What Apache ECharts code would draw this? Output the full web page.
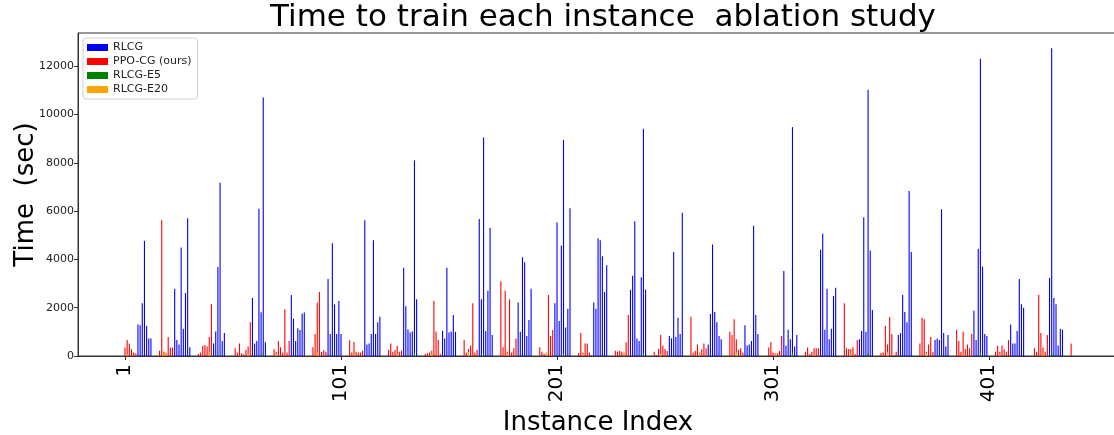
<!DOCTYPE html>
<html>
<head>
<meta charset="utf-8">
<title>Time to train each instance</title>
<script src="https://cdn.jsdelivr.net/npm/echarts@6/dist/echarts.min.js"></script>
<style>
html, body { margin: 0; padding: 0; background: #fff; }
#chart { width: 1114px; height: 435px; }
</style>
</head>
<body>
<div id="chart"></div>
<script>
// x tick labels (instance index)
const xTicks = [1, 101, 201, 301, 401]
const yTicks = [0, 2000, 4000, 6000, 8000, 10000, 12000]

// RLCG: first instance of each run, then the run values (sec)
const rlcgStart = [7, 24, 42, 60, 78, 95, 112, 130, 148, 165, 183, 200, 218, 235, 253, 271, 288, 306, 323, 341, 359, 376, 394, 411, 429]
const rlcgRuns = [
  [1310, 1270, 2180, 4770, 1240, 730, 730],
  [2790, 660, 480, 4490, 1130, 2610, 5710, 360],
  [520, 1010, 3690, 7180, 620, 950],
  [2400, 520, 620, 6100, 1810, 10710, 570],
  [2530, 1550, 620, 1150, 1080, 1750, 1800],
  [3190, 910, 4670, 2140, 910, 2280, 910],
  [5620, 480, 520, 910, 4800, 910, 1400, 1630],
  [3660, 2060, 1100, 970, 1010, 8100, 2350],
  [1040, 730, 3660, 970, 1010, 1700, 1000],
  [5670, 2350, 9050, 1040, 2700, 5310, 870],
  [2220, 1000, 4090, 3880, 830, 1490, 2790],
  [2180, 5530, 1450, 4580, 8950, 1180, 1960, 6120],
  [2220, 1960, 4880, 4800, 4130, 2650, 3760],
  [2740, 3320, 5580, 730, 620, 3260, 9410, 2740],
  [830, 730, 4310, 790, 1580, 910, 5930],
  [480, 1740, 4620, 1820, 1400, 830, 690],
  [1270, 440, 480, 620, 5400, 1700, 910],
  [3520, 420, 1090, 690, 9480, 390, 870],
  [4400, 5060, 1090, 2790, 690, 1130, 2490, 2830],
  [690, 1040, 5750, 1000, 11030, 4370, 1910],
  [870, 950, 2530, 1820, 1400, 6830, 4310],
  [660, 730, 660, 6080, 950, 390, 870],
  [1870, 660, 4440, 12310, 3700, 910, 830],
  [1310, 520, 520, 1040, 3190, 2140, 2000],
  [3230, 12750, 2400, 2140, 440, 1130, 1090]
]

// PPO-CG (ours)
const ppoStart = [1, 17, 35, 52, 70, 88, 105, 123, 140, 158, 175, 193, 211, 228, 246, 263, 281, 299, 316, 334, 351, 369, 386, 404, 422, 439]
const ppoRuns = [
  [350, 660, 520, 280, 140, 110],
  [220, 5620, 180, 110, 790, 350, 350],
  [80, 140, 420, 460, 390, 790, 2140],
  [320, 140, 520, 110, 70, 250, 390, 1400],
  [280, 180, 620, 360, 150, 1940, 140, 620],
  [360, 910, 2220, 2650, 170, 250, 180],
  [650, 140, 580, 180, 140, 140, 220],
  [250, 520, 180, 250, 420, 180, 220],
  [80, 110, 140, 220, 2280, 1010, 660, 80],
  [660, 140, 290, 440, 2180, 140, 250],
  [3100, 360, 2700, 180, 2350, 140, 320, 730],
  [360, 180, 80, 80, 2530, 830, 1080],
  [120, 950, 140, 520, 520, 140, 40],
  [220, 180, 220, 180, 80, 570, 1700],
  [180, 40, 300, 870, 420, 290, 210],
  [1630, 140, 220, 480, 140, 280, 520, 320],
  [1000, 870, 1520, 690, 250, 320, 140],
  [350, 570, 140, 110, 110, 210, 830],
  [180, 350, 80, 180, 320, 320, 320],
  [2180, 320, 290, 280, 360, 80, 660],
  [120, 140, 1240, 480, 1620, 910, 40, 180],
  [520, 1580, 1520, 180, 480, 790, 170],
  [1090, 620, 180, 1000, 290, 480, 320, 910],
  [180, 420, 180, 440, 280, 180, 660],
  [320, 180, 2530, 950, 350, 180, 870],
  [520]
]

// RLCG-E5 and RLCG-E20: instance index and value
const e5Idx = [65, 135, 167, 204, 241, 310, 345, 397, 430]
const e5Val = [150, 120, 100, 100, 100, 130, 100, 150, 150]
const e20Idx = [2, 19, 20, 40, 58, 71, 90, 107, 127, 143, 160, 178, 196, 213, 232, 249, 267, 284, 302, 320, 337, 354, 372, 389, 406, 426]
const e20Val = [90, 120, 150, 200, 120, 100, 150, 100, 90, 110, 150, 130, 180, 100, 170, 90, 110, 150, 100, 80, 140, 150, 120, 90, 100, 120]

function expand (starts, runs) {
  const out = []
  starts.forEach((s, k) => {
    runs[k].forEach((v, j) => out.push([s + j, v]))
  })
  return out
}

function pairs (idx, vals) {
  return idx.map((x, i) => [x, vals[i]])
}

const font = 'DejaVu Sans'

function barSeries (name, color, data) {
  return {
    name: name,
    type: 'bar',
    data: data,
    barWidth: 1.1,
    barGap: '-100%',
    itemStyle: { color: color },
    emphasis: { disabled: true }
  }
}

const chart = echarts.init(document.getElementById('chart'))
chart.setOption({
  animation: false,
  title: {
    text: 'Time to train each instance  ablation study',
    left: 598,
    textAlign: 'center',
    top: -3,
    textStyle: { fontFamily: font, fontSize: 31, fontWeight: 'normal', color: '#000' }
  },
  legend: {
    left: 83,
    top: 38,
    orient: 'vertical',
    icon: 'rect',
    itemWidth: 21,
    itemHeight: 7,
    itemGap: 3,
    padding: [4, 6, 4, 4],
    backgroundColor: '#fff',
    borderColor: '#d0d0d0',
    borderWidth: 1,
    borderRadius: 3,
    textStyle: { fontFamily: font, fontSize: 11, color: '#222' }
  },
  grid: {
    left: 78,
    top: 33,
    width: 1040,
    height: 323,
    show: true,
    borderColor: '#333',
    borderWidth: 1,
    outerBoundsMode: 'none'
  },
  xAxis: {
    type: 'value',
    min: -20.76,
    max: 460.7,
    name: 'Instance Index',
    nameLocation: 'middle',
    nameGap: 54,
    nameMoveOverlap: false,
    nameTextStyle: { fontFamily: font, fontSize: 26, color: '#000' },
    axisLine: { onZero: false, lineStyle: { color: '#333', width: 1 } },
    axisTick: { show: true, length: 4, customValues: xTicks, lineStyle: { color: '#333' } },
    axisLabel: {
      customValues: xTicks,
      rotate: 90,
      margin: 8,
      fontFamily: font,
      fontSize: 20,
      color: '#000'
    },
    splitLine: { show: false }
  },
  yAxis: {
    type: 'value',
    min: 0,
    max: 13380,
    name: 'Time  (sec)',
    nameLocation: 'middle',
    nameRotate: 90,
    nameGap: 39,
    nameMoveOverlap: false,
    nameTextStyle: { fontFamily: font, fontSize: 26, color: '#000' },
    axisLine: { show: true, onZero: false, lineStyle: { color: '#333', width: 1 } },
    axisTick: { show: true, length: 4, customValues: yTicks, lineStyle: { color: '#333' } },
    axisLabel: {
      customValues: yTicks,
      formatter: v => String(v),
      margin: 4,
      fontFamily: font,
      fontSize: 11,
      color: '#222'
    },
    splitLine: { show: false }
  },
  series: [
    barSeries('RLCG', '#0000ff', expand(rlcgStart, rlcgRuns)),
    barSeries('PPO-CG (ours)', '#ff0000', expand(ppoStart, ppoRuns)),
    barSeries('RLCG-E5', '#008000', pairs(e5Idx, e5Val)),
    barSeries('RLCG-E20', '#ffa500', pairs(e20Idx, e20Val))
  ]
})
</script>
</body>
</html>
